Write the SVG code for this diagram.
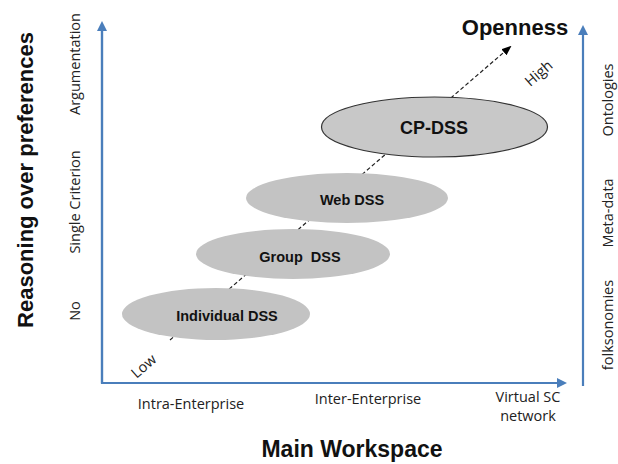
<svg xmlns="http://www.w3.org/2000/svg" width="618" height="464" viewBox="0 0 618 464">
  <defs>
    <marker id="axisHead" markerWidth="10" markerHeight="10" refX="5" refY="5" orient="auto" markerUnits="userSpaceOnUse">
      <path d="M0,0 L10,5 L0,10 z" fill="#4a7ebb"/>
    </marker>
    <marker id="dashHead" markerWidth="10" markerHeight="10" refX="8" refY="5" orient="auto" markerUnits="userSpaceOnUse">
      <path d="M0,1 L10,5 L0,9 z" fill="#000"/>
    </marker>
    <style>
      text { font-family: "Liberation Sans", Arial, sans-serif; fill: #111; }
      .title { font-size: 22px; font-weight: bold; }
      .tick { font-family: "Open Sans", "Liberation Sans", sans-serif; font-size: 14.5px; fill: #222; }
      .node { font-size: 14.5px; font-weight: bold; }
      .axis { stroke: #4a7ebb; stroke-width: 2.2; fill: none; }
      .blob { fill: #c3c3c3; }
    </style>
  </defs>

  <rect width="618" height="464" fill="#fff"/>

  <!-- axes and the openness trend line -->
  <g id="connectors">
    <polyline class="axis" points="102,26 102,383 562,383" marker-end="url(#axisHead)"/>
    <line class="axis" x1="102" y1="383" x2="102" y2="26" marker-end="url(#axisHead)"/>
    <line class="axis" x1="583" y1="386" x2="583" y2="30" marker-end="url(#axisHead)"/>
    <line x1="170" y1="340" x2="510" y2="47" stroke="#222" stroke-width="1.2" stroke-dasharray="4,2.5" marker-end="url(#dashHead)"/>
  </g>

  <!-- DSS nodes -->
  <g id="individual-dss">
    <ellipse class="blob" cx="216" cy="314" rx="94" ry="26"/>
    <text class="node" x="227" y="321" text-anchor="middle">Individual DSS</text>
  </g>
  <g id="group-dss">
    <ellipse class="blob" cx="293" cy="254" rx="97" ry="25"/>
    <text class="node" x="300" y="262" text-anchor="middle" xml:space="preserve">Group  DSS</text>
  </g>
  <g id="web-dss">
    <ellipse class="blob" cx="347" cy="198" rx="101" ry="25"/>
    <text class="node" x="352" y="205" text-anchor="middle">Web DSS</text>
  </g>
  <g id="cp-dss">
    <ellipse cx="434.5" cy="127" rx="113" ry="30" fill="#c8c8c8" stroke="#333" stroke-width="1.2"/>
    <text x="434" y="134" text-anchor="middle" style="font-size:18px;font-weight:bold">CP-DSS</text>
  </g>

  <!-- openness scale -->
  <text x="515" y="35" text-anchor="middle" class="title" style="font-size:22px">Openness</text>
  <text class="tick" transform="translate(147,370) rotate(-41)" text-anchor="middle">Low</text>
  <text class="tick" transform="translate(542,77) rotate(-41)" text-anchor="middle">High</text>

  <!-- vertical axis title and ticks -->
  <text class="title" transform="translate(33,180) rotate(-90)" text-anchor="middle">Reasoning over preferences</text>
  <text class="tick" transform="translate(80,64) rotate(-90)" text-anchor="middle">Argumentation</text>
  <text class="tick" transform="translate(80,202) rotate(-90)" text-anchor="middle">Single Criterion</text>
  <text class="tick" transform="translate(80,311) rotate(-90)" text-anchor="middle">No</text>

  <!-- right axis ticks -->
  <text class="tick" transform="translate(613,100) rotate(-90)" text-anchor="middle">Ontologies</text>
  <text class="tick" transform="translate(613,213) rotate(-90)" text-anchor="middle">Meta-data</text>
  <text class="tick" transform="translate(613,325) rotate(-90)" text-anchor="middle">folksonomies</text>

  <!-- horizontal axis ticks and title -->
  <text class="tick" x="191" y="409" text-anchor="middle">Intra-Enterprise</text>
  <text class="tick" x="368" y="404" text-anchor="middle">Inter-Enterprise</text>
  <text class="tick" x="528" y="402" text-anchor="middle">Virtual SC</text>
  <text class="tick" x="528" y="421" text-anchor="middle">network</text>
  <text class="title" x="352" y="457" text-anchor="middle" style="font-size:23px">Main Workspace</text>
</svg>
